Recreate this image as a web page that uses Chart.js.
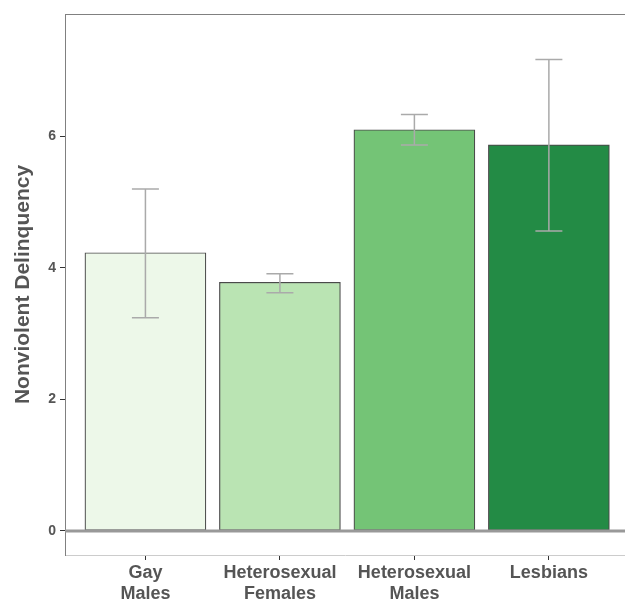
<!DOCTYPE html>
<html>
<head>
<meta charset="utf-8">
<script src="https://cdn.jsdelivr.net/npm/chart.js@4/dist/chart.umd.min.js"></script>
<style>
  html, body { margin: 0; padding: 0; background: #fff; }
</style>
</head>
<body>
<canvas id="chart" width="625" height="600"></canvas>
<script>
const categories = ["Gay Males", "Heterosexual Females", "Heterosexual Males", "Lesbians"];
const means = [4.23, 3.78, 6.10, 5.87];
const errLow = [3.24, 3.62, 5.87, 4.56];
const errHigh = [5.20, 3.91, 6.33, 7.17];
const yTicks = [0, 2, 4, 6];
const barColors = ["#edf8e9", "#bae4b3", "#74c476", "#238b45"];

const FONT = "'Liberation Sans', Arial, sans-serif";

// error bars, zero line and top frame line
const extras = {
    id: "extras",
    afterDatasetsDraw(chart) {
        const ctx = chart.ctx;
        const x = chart.scales.x;
        const y = chart.scales.y;
        const area = chart.chartArea;
        ctx.save();
        ctx.strokeStyle = "#aaaaaa";
        ctx.lineWidth = 1.5;
        means.forEach((m, i) => {
            const px = x.getPixelForValue(i);
            const lo = y.getPixelForValue(errLow[i]);
            const hi = y.getPixelForValue(errHigh[i]);
            ctx.beginPath();
            ctx.moveTo(px, lo); ctx.lineTo(px, hi);
            ctx.moveTo(px - 13.5, lo); ctx.lineTo(px + 13.5, lo);
            ctx.moveTo(px - 13.5, hi); ctx.lineTo(px + 13.5, hi);
            ctx.stroke();
        });
        const z = y.getPixelForValue(0);
        ctx.strokeStyle = "#999999";
        ctx.lineWidth = 3;
        ctx.beginPath();
        ctx.moveTo(area.left, z); ctx.lineTo(area.right, z);
        ctx.stroke();
        ctx.strokeStyle = "#808080";
        ctx.lineWidth = 1;
        ctx.beginPath();
        ctx.moveTo(area.left, area.top + 0.5); ctx.lineTo(area.right, area.top + 0.5);
        ctx.stroke();
        ctx.restore();
    }
};

new Chart(document.getElementById("chart"), {
    type: "bar",
    data: {
        datasets: [{
            data: means.map((v, i) => ({ x: i, y: v })),
            backgroundColor: barColors,
            borderColor: "#4a4a4a",
            borderWidth: 1.2,
            borderSkipped: false,
            barThickness: 121
        }]
    },
    options: {
        responsive: false,
        animation: false,
        layout: { padding: { top: 14, right: 0, bottom: 0, left: 0 } },
        plugins: {
            legend: { display: false },
            tooltip: { enabled: false }
        },
        scales: {
            x: {
                type: "linear",
                offset: false,
                min: -0.598,
                max: 3.566,
                afterBuildTicks: (scale) => {
                    scale.ticks = categories.map((c, i) => ({ value: i }));
                },
                afterFit: (scale) => { scale.height = 45; },
                grid: {
                    offset: false,
                    drawOnChartArea: false,
                    tickLength: 5,
                    tickColor: "#333333"
                },
                border: { color: "#cccccc", width: 1 },
                ticks: {
                    autoSkip: false,
                    maxRotation: 0,
                    padding: 3,
                    color: "#555555",
                    font: { family: FONT, size: 18, weight: "bold", lineHeight: 1.15 },
                    callback: (v) => categories[v] ? categories[v].split(" ") : ""
                }
            },
            y: {
                min: -0.366,
                max: 7.86,
                afterBuildTicks: (scale) => {
                    scale.ticks = yTicks.map(v => ({ value: v }));
                },
                afterFit: (scale) => { scale.width = 65; },
                grid: {
                    color: "rgba(0,0,0,0)",
                    tickLength: 5,
                    tickColor: "#333333"
                },
                border: { color: "#808080", width: 1 },
                ticks: {
                    padding: 4,
                    color: "#555555",
                    font: { family: FONT, size: 14, weight: "bold" }
                },
                title: {
                    display: true,
                    text: "Nonviolent Delinquency",
                    color: "#555555",
                    font: { family: FONT, size: 21, weight: "bold" },
                    padding: { top: 11, bottom: 0 }
                }
            }
        }
    },
    plugins: [extras]
});
</script>
</body>
</html>
